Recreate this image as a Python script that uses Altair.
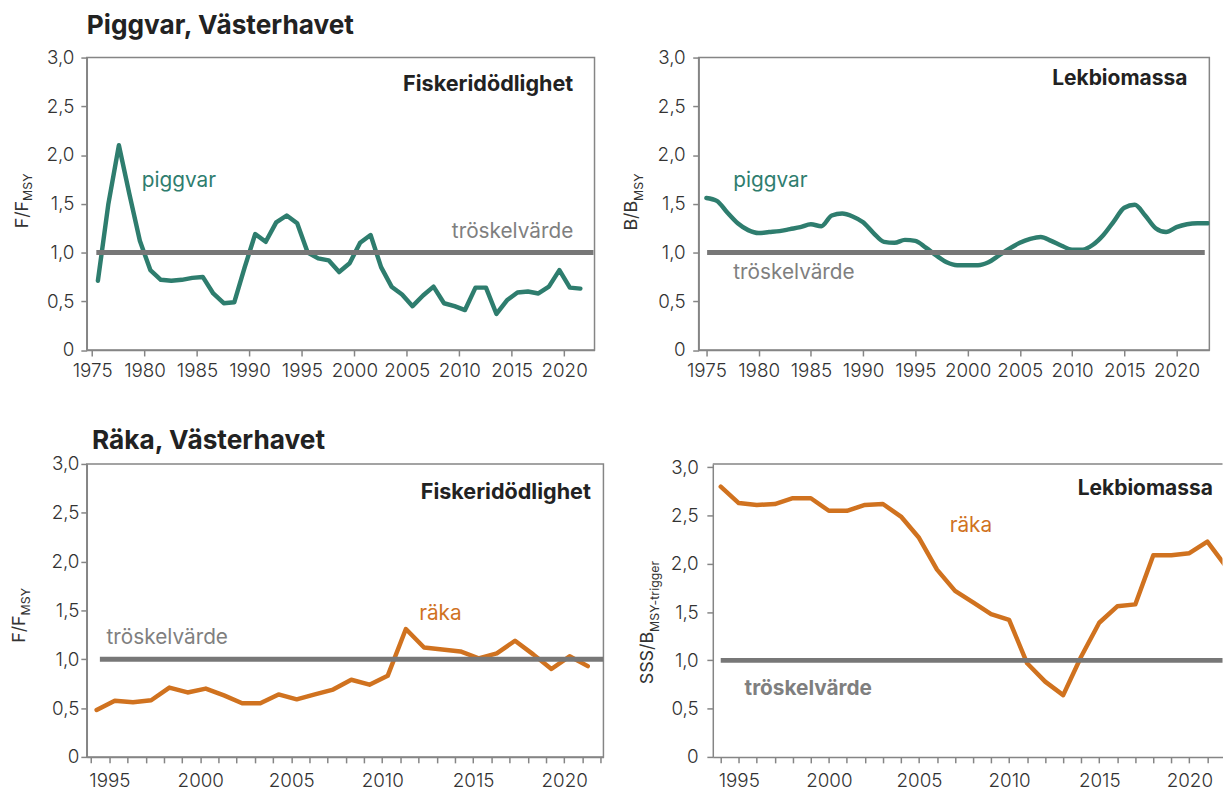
import altair as alt
import pandas as pd

# ---------------- data ----------------
# Piggvar, Västerhavet – fiskeridödlighet F/FMSY
pig_f_years = list(range(1975, 2022))
pig_f_values = [0.71, 1.50, 2.10, 1.60, 1.12, 0.82, 0.72, 0.71, 0.72, 0.74,
                0.75, 0.58, 0.48, 0.49, 0.85, 1.19, 1.11, 1.31, 1.38, 1.30,
                1.00, 0.94, 0.92, 0.80, 0.89, 1.10, 1.18, 0.85, 0.65, 0.57,
                0.45, 0.56, 0.65, 0.48, 0.45, 0.41, 0.64, 0.64, 0.37, 0.51,
                0.59, 0.60, 0.58, 0.65, 0.82, 0.64, 0.63]

# Piggvar, Västerhavet – lekbiomassa B/BMSY
pig_b_years = list(range(1975, 2024))
pig_b_values = [1.56, 1.53, 1.41, 1.30, 1.23, 1.20, 1.21, 1.22, 1.24, 1.26,
                1.29, 1.27, 1.38, 1.40, 1.37, 1.31, 1.20, 1.11, 1.10, 1.13,
                1.12, 1.05, 0.97, 0.90, 0.87, 0.87, 0.87, 0.90, 0.97, 1.04,
                1.10, 1.14, 1.16, 1.12, 1.07, 1.03, 1.03, 1.08, 1.18, 1.32,
                1.46, 1.49, 1.38, 1.25, 1.21, 1.26, 1.29, 1.30, 1.30]

# Räka, Västerhavet – fiskeridödlighet F/FMSY
rak_f_years = list(range(1994, 2022))
rak_f_values = [0.48, 0.575, 0.56, 0.58, 0.71, 0.66, 0.70, 0.63, 0.55, 0.55,
                0.64, 0.59, 0.64, 0.69, 0.79, 0.74, 0.83, 1.31, 1.12, 1.10,
                1.08, 1.01, 1.06, 1.19, 1.05, 0.90, 1.03, 0.93]

# Räka, Västerhavet – lekbiomassa SSS/BMSY-trigger
rak_b_years = list(range(1994, 2023))
rak_b_values = [2.80, 2.63, 2.61, 2.62, 2.68, 2.68, 2.55, 2.55, 2.61, 2.62,
                2.49, 2.27, 1.94, 1.72, 1.60, 1.48, 1.42, 0.97, 0.78, 0.64,
                1.04, 1.39, 1.56, 1.58, 2.09, 2.09, 2.11, 2.23, 1.98]

y_ticks = [0, 0.5, 1.0, 1.5, 2.0, 2.5, 3.0]
top_x_ticks = [1975, 1980, 1985, 1990, 1995, 2000, 2005, 2010, 2015, 2020]
bottom_x_ticks = list(range(1994, 2023))
threshold = 1.0

# ---------------- style ----------------
FONT = "Inter"
FRAME = "#858585"
TEAL = "#2e7d6e"
ORANGE = "#d0721f"
THRESH = "#777777"
GRAY_TXT = "#7f7f7f"
DARK = "#222222"

Y_LABELS = "datum.value == 0 ? '0' : replace(format(datum.value, '.1f'), '.', ',')"


def text(s, x, y, color, size, weight="normal", align="left",
         baseline="middle", angle=0):
    return alt.Chart(pd.DataFrame({"t": [s]})).mark_text(
        align=align, baseline=baseline, font=FONT, fontSize=size,
        fontWeight=weight, color=color, angle=angle
    ).encode(text="t:N", x=alt.value(x), y=alt.value(y))


def panel(years, values, offset, color, interp, xdom, ydom, width, height,
          xvals, xlabel_expr, xpad, ypad, thr_range, annotations,
          frame=True):
    df = pd.DataFrame({"year": years, "v": values})
    xscale = alt.Scale(domain=xdom, nice=False, zero=False)
    yscale = alt.Scale(domain=ydom, nice=False, zero=False)
    xaxis = alt.Axis(values=xvals, labelExpr=xlabel_expr, tickSize=6,
                     labelPadding=xpad, labelOverlap=False, labelFlush=False,
                     title=None)
    yaxis = alt.Axis(values=y_ticks, labelExpr=Y_LABELS, tickSize=6,
                     labelPadding=ypad, labelOverlap=False, labelFlush=False,
                     title=None)
    line = alt.Chart(df).transform_calculate(
        x=f"datum.year + {offset}"
    ).mark_line(
        color=color, strokeWidth=4.5, strokeJoin="round", strokeCap="round",
        interpolate=interp, clip=True
    ).encode(
        x=alt.X("x:Q", scale=xscale, axis=xaxis),
        y=alt.Y("v:Q", scale=yscale, axis=yaxis),
    )
    thr_df = pd.DataFrame({"x": [thr_range[0]], "x2": [thr_range[1]],
                           "v": [threshold]})
    thr = alt.Chart(thr_df).mark_rule(
        color=THRESH, strokeWidth=5, clip=True
    ).encode(
        x=alt.X("x:Q", scale=xscale, axis=xaxis),
        x2="x2:Q",
        y=alt.Y("v:Q", scale=yscale, axis=yaxis),
    )
    layers = [line, thr] + annotations
    if not frame:
        top = alt.Chart(pd.DataFrame({"a": [0]})).mark_rule(
            color=FRAME, strokeWidth=1.5
        ).encode(x=alt.value(0), x2=alt.value(width), y=alt.value(0))
        layers.append(top)
    ch = alt.layer(*layers).properties(width=width, height=height)
    if not frame:
        ch = ch.properties(view=alt.ViewBackground(stroke=None))
    return ch


top_lbl = "format(datum.value, 'd')"
bot_lbl = "datum.value % 5 == 0 ? format(datum.value, 'd') : ''"

# --- panel 1 ---
p1 = panel(
    pig_f_years, pig_f_values, 0.55, TEAL, "linear",
    [1974.49, 2022.9], [0, 3], 513, 295.5,
    top_x_ticks, top_lbl, 5.6, 7, [1975.4, 2022.8],
    [
        text("Piggvar, Västerhavet", 0, -23.5, DARK, 26.5, "bold",
             baseline="alphabetic"),
        text("Fiskeridödlighet", 491.5, 26.5, DARK, 21.8, "bold", "right"),
        text("piggvar", 55.5, 124.8, TEAL, 21),
        text("tröskelvärde", 491.5, 176.5, GRAY_TXT, 21, align="right"),
        text("F/F", -59.7, 144.8, "#333333", 18, align="right",
             baseline="alphabetic", angle=270),
        text("MSY", -55.0, 144.8, "#333333", 12.5, align="left",
             baseline="alphabetic", angle=270),
    ],
)

# --- panel 2 ---
p2 = panel(
    pig_b_years, pig_b_values, 0, TEAL, "monotone",
    [1974.26, 2023.14], [0, 3], 516, 295.5,
    top_x_ticks, top_lbl, 5.6, 7.7, [1975.07, 2022.7],
    [
        text("Lekbiomassa", 493.8, 22.1, DARK, 21.2, "bold", "right"),
        text("piggvar", 35, 124.8, TEAL, 21),
        text("tröskelvärde", 35, 218.1, GRAY_TXT, 21),
        text("B/B", -62.7, 144.8, "#333333", 18, align="right",
             baseline="alphabetic", angle=270),
        text("MSY", -56.7, 144.8, "#333333", 12.5, align="left",
             baseline="alphabetic", angle=270),
    ],
)

# --- panel 3 ---
p3 = panel(
    rak_f_years, rak_f_values, 0.3, ORANGE, "linear",
    [1993.76, 2022.16], [0, 3], 522, 296,
    bottom_x_ticks, bot_lbl, 8.6, 2, [1994.48, 2022.16],
    [
        text("Räka, Västerhavet", 5.3, -15.3, DARK, 26.5, "bold",
             baseline="alphabetic"),
        text("Fiskeridödlighet", 509.3, 28, DARK, 21.8, "bold", "right"),
        text("räka", 335.8, 151.3, ORANGE, 21),
        text("tröskelvärde", 20, 176.3, GRAY_TXT, 21),
        text("F/F", -62, 153, "#333333", 18, align="right",
             baseline="alphabetic", angle=270),
        text("MSY", -57.4, 153, "#333333", 12.5, align="left",
             baseline="alphabetic", angle=270),
    ],
)

# --- panel 4 ---
p4 = panel(
    rak_b_years, rak_b_values, 0, ORANGE, "linear",
    [1993.56, 2021.84], [0, 3.035], 515, 296,
    bottom_x_ticks, bot_lbl, 8.6, 8.7, [1994.0, 2023],
    [
        text("Lekbiomassa", 505.3, 25.7, DARK, 21.2, "bold", "right"),
        text("räka", 239.3, 63, ORANGE, 21),
        text("tröskelvärde", 32.1, 227.3, GRAY_TXT, 21, "bold"),
        text("SSS/B", -60.2, 169.7, "#333333", 18, align="right",
             baseline="alphabetic", angle=270),
        text("MSY-trigger", -54.7, 169.7, "#333333", 12.5, align="left",
             baseline="alphabetic", angle=270),
    ],
    frame=False,
)

row1 = alt.hconcat(p1, p2, spacing=105.2, bounds="flush")
row2 = alt.hconcat(p3, p4, spacing=110.5, bounds="flush")

chart = alt.vconcat(row1, row2, spacing=45.6).properties(
    padding={"left": 2.6, "top": 0, "right": 0, "bottom": 0}
).configure_view(
    stroke=FRAME, strokeWidth=1.5
).configure_axis(
    labelFont=FONT, labelFontSize=19, labelColor="#333333",
    labelFontWeight=300, domainColor=FRAME, domainWidth=1.5,
    tickColor=FRAME, tickWidth=1.5, grid=False
)

chart.save("out.html", embed_options={"renderer": "svg", "actions": False})
